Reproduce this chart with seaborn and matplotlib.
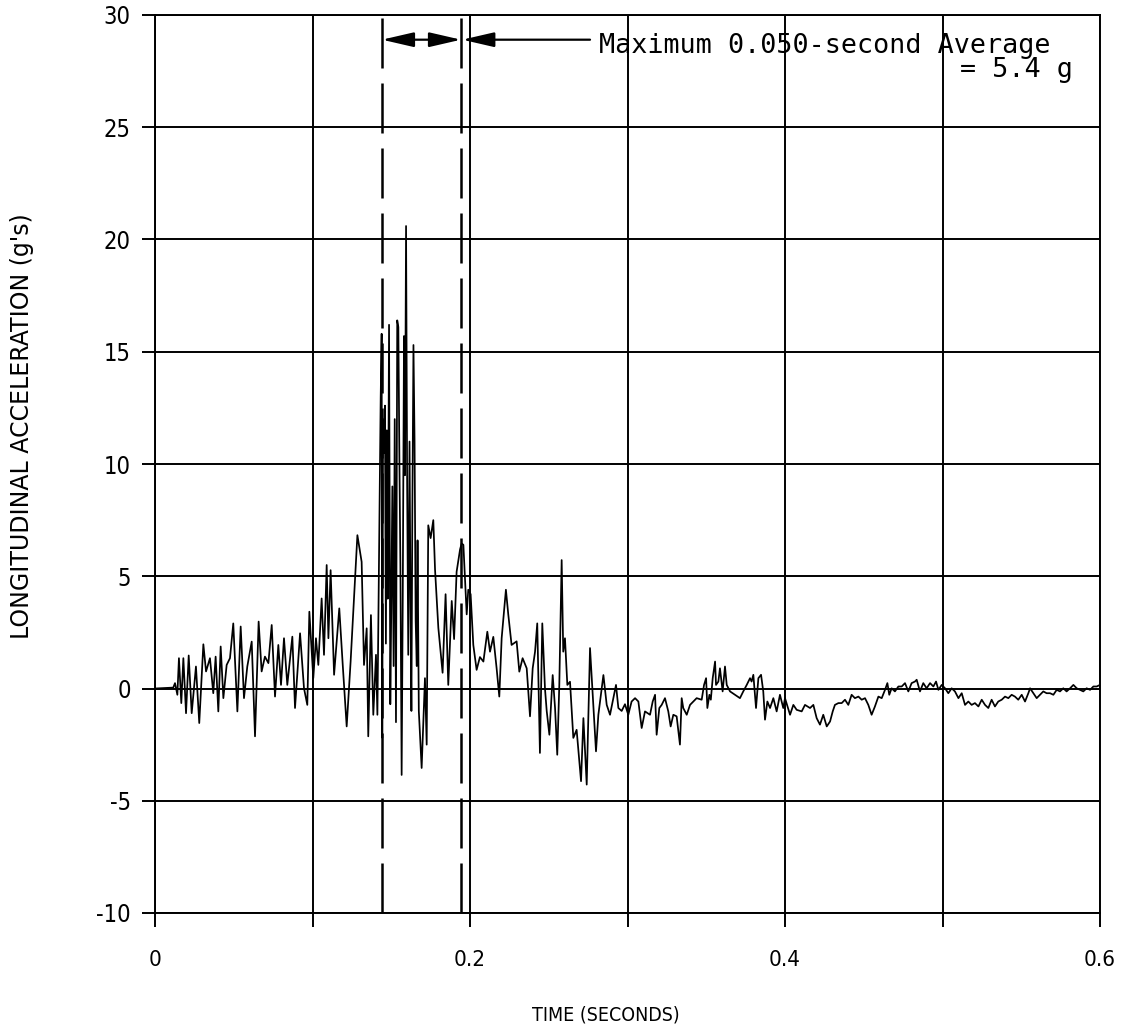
import numpy as np
import matplotlib
matplotlib.use("Agg")
import matplotlib.pyplot as plt
import seaborn as sns

# Digitised trace (time in s, longitudinal acceleration in g)
# pre-peak part
t_early = [0.0, 0.0116, 0.0127, 0.0142, 0.0152, 0.0167, 0.0180, 0.0197, 0.0214,
           0.0233, 0.0260, 0.0281, 0.0307, 0.0324, 0.0349, 0.0370, 0.0385,
           0.0402, 0.0417, 0.0434, 0.0455, 0.0476, 0.0497, 0.0523, 0.0544,
           0.0565, 0.0586, 0.0614, 0.0635, 0.0658, 0.0677, 0.0698, 0.0720,
           0.0741, 0.0762, 0.0783, 0.0800, 0.0819, 0.0840, 0.0872, 0.0889,
           0.0921, 0.0946, 0.0967, 0.0980, 0.1005, 0.1022, 0.1037, 0.1058,
           0.1073, 0.1090, 0.1101, 0.1115, 0.1137, 0.1170, 0.1192, 0.1217,
           0.1242, 0.1285, 0.1312, 0.1327, 0.1344, 0.1354, 0.1371, 0.1386,
           0.1403, 0.1412, 0.1424]
g_early = [0.0, 0.04, 0.24, -0.28, 1.35, -0.65, 1.35, -1.10, 1.47,
           -1.10, 0.98, -1.54, 1.97, 0.76, 1.35, -0.21, 1.42,
           -1.02, 1.87, -0.43, 1.05, 1.35, 2.90, -1.02, 2.76,
           -0.43, 0.98, 2.09, -2.13, 2.98, 0.76, 1.42, 1.13,
           2.83, -0.36, 1.94, 0.16, 2.24, 0.16, 2.31, -0.87,
           2.46, 0.01, -0.73, 3.42, 0.46, 2.24, 1.05, 4.01,
           1.50, 5.50, 2.24, 5.27, 0.61, 3.57, 1.05, -1.69,
           1.20, 6.83, 5.64, 1.05, 2.68, -2.13, 3.27, -1.17,
           1.50, -1.17, 6.83]

# peak part (inside and just after the 0.050 s window)
t_peak = [0.1433, 0.1439, 0.1443, 0.1448, 0.1454, 0.1460, 0.1466, 0.1472,
          0.1478, 0.1486, 0.1494, 0.1500, 0.1507, 0.1515, 0.1522, 0.1530,
          0.1538, 0.1545, 0.1552, 0.1558, 0.1566, 0.1573, 0.1581, 0.1587,
          0.1594, 0.1601, 0.1608, 0.1616, 0.1622, 0.1628, 0.1634, 0.1641,
          0.1648, 0.1655, 0.1662, 0.1667, 0.1675, 0.1693, 0.1714, 0.1725,
          0.1735, 0.1750, 0.1767, 0.1778, 0.1799, 0.1826, 0.1845, 0.1862,
          0.1884, 0.1899, 0.1915, 0.1937, 0.1947, 0.1958, 0.1979, 0.1989,
          0.2004, 0.2021, 0.2042, 0.2063, 0.2085, 0.2110, 0.2127, 0.2148,
          0.2169, 0.2186, 0.2201, 0.2228, 0.2243, 0.2264, 0.2296, 0.2313,
          0.2334, 0.2360, 0.2381, 0.2398, 0.2413, 0.2427, 0.2444, 0.2459,
          0.2476, 0.2487, 0.2504, 0.2525, 0.2540, 0.2554, 0.2567, 0.2582,
          0.2592, 0.2603, 0.2618, 0.2635, 0.2656, 0.2677, 0.2705, 0.2720,
          0.2741, 0.2762, 0.2783, 0.2800, 0.2815, 0.2847, 0.2868, 0.2889,
          0.2927, 0.2942, 0.2963, 0.2984, 0.3005, 0.3026, 0.3048, 0.3069,
          0.3090, 0.3111]
g_peak = [13.0, 15.8, -2.2, 12.0, 10.5, 12.6, 2.0, 11.5,
          4.0, 16.2, -0.7, 3.5, 9.0, 1.0, 12.0, -1.5,
          16.4, 16.1, 10.0, 5.5, -3.85, 4.0, 15.7, 9.5,
          20.6, 9.0, 1.5, 11.0, 4.0, -1.0, 8.0, 15.3,
          11.0, 3.0, 1.0, 6.6, -1.0, -3.54, 0.46, -2.5,
          7.27, 6.7, 7.5, 5.3, 2.7, 0.7, 4.2, 0.16,
          3.9, 2.2, 5.2, 6.2, 6.46, 6.4, 3.3, 4.4,
          4.2, 1.94, 0.83, 1.4, 1.2, 2.53, 1.64, 2.3,
          0.9, -0.36, 2.24, 4.4, 3.3, 1.94, 2.1, 0.75,
          1.35, 0.9, -1.24, 0.9, 1.64, 2.9, -2.87, 2.9,
          0.0, -1.0, -2.06, 0.6, -0.87, -2.95, 0.16, 5.72,
          1.64, 2.24, 0.16, 0.3, -2.2, -1.84, -4.13, -1.32,
          -4.28, 1.8, -0.73, -2.8, -1.17, 0.6, -0.73, -1.17,
          0.16, -0.87, -1.0, -0.7, -1.17, -0.58, -0.43, -0.58,
          -1.76, -1.02]

# late part
t_late = [0.3143, 0.3160, 0.3175, 0.3185, 0.3202, 0.3217, 0.3238, 0.3259,
          0.3274, 0.3291, 0.3312, 0.3333, 0.3344, 0.3354, 0.3376, 0.3397,
          0.3418, 0.3439, 0.3471, 0.3486, 0.3499, 0.3507, 0.3520, 0.3529,
          0.3541, 0.3556, 0.3562, 0.3577, 0.3587, 0.3604, 0.3619, 0.3630,
          0.3651, 0.3683, 0.3714, 0.3735, 0.3757, 0.3778, 0.3788, 0.3799,
          0.3816, 0.3831, 0.3848, 0.3862, 0.3873, 0.3888, 0.3905, 0.3926,
          0.3947, 0.3968, 0.3989, 0.4000, 0.4032, 0.4053, 0.4074, 0.4106,
          0.4127, 0.4159, 0.4180, 0.4201, 0.4222, 0.4243, 0.4265, 0.4286,
          0.4303, 0.4317, 0.4339, 0.4360, 0.4381, 0.4402, 0.4423, 0.4444,
          0.4466, 0.4487, 0.4508, 0.4529, 0.4550, 0.4571, 0.4593, 0.4614,
          0.4635, 0.4650, 0.4662, 0.4677, 0.4698, 0.4720, 0.4741, 0.4762,
          0.4783, 0.4804, 0.4825, 0.4836, 0.4857, 0.4878, 0.4899, 0.4921,
          0.4942, 0.4959, 0.4974, 0.4995, 0.5016, 0.5037, 0.5058, 0.5079,
          0.5101, 0.5122, 0.5143, 0.5164, 0.5185, 0.5206, 0.5228, 0.5249,
          0.5270, 0.5291, 0.5312, 0.5333, 0.5354, 0.5376, 0.5397, 0.5418,
          0.5439, 0.5460, 0.5481, 0.5503, 0.5524, 0.5545, 0.5556, 0.5577,
          0.5598, 0.5619, 0.5640, 0.5661, 0.5683, 0.5704, 0.5725, 0.5746,
          0.5767, 0.5788, 0.5810, 0.5831, 0.5852, 0.5873, 0.5894, 0.5915,
          0.5937, 0.5958, 0.5979, 0.6000]
g_late = [-1.17, -0.58, -0.28, -2.06, -0.87, -0.73, -0.43, -1.02,
          -1.69, -1.17, -1.24, -2.50, -0.43, -0.87, -1.17, -0.73,
          -0.58, -0.43, -0.50, 0.16, 0.46, -0.87, -0.28, -0.50,
          0.46, 1.20, 0.16, 0.31, 0.90, -0.13, 0.98, 0.16,
          -0.13, -0.28, -0.43, -0.13, 0.16, 0.46, 0.31, 0.61,
          -0.87, 0.46, 0.61, -0.13, -1.39, -0.58, -0.87, -0.43,
          -1.02, -0.28, -0.87, -0.43, -1.17, -0.73, -0.95, -1.02,
          -0.73, -0.87, -0.73, -1.32, -1.61, -1.17, -1.69, -1.47,
          -1.02, -0.73, -0.65, -0.65, -0.50, -0.73, -0.28, -0.43,
          -0.36, -0.50, -0.43, -0.73, -1.17, -0.80, -0.36, -0.43,
          -0.06, 0.24, -0.28, 0.01, -0.13, 0.09, 0.09, 0.24,
          -0.13, 0.24, 0.31, 0.39, -0.13, 0.24, 0.01, 0.24,
          0.09, 0.31, -0.06, 0.16, 0.01, -0.21, 0.01, -0.13,
          -0.43, -0.21, -0.73, -0.58, -0.73, -0.65, -0.80, -0.50,
          -0.73, -0.87, -0.50, -0.80, -0.58, -0.50, -0.36, -0.43,
          -0.28, -0.36, -0.50, -0.28, -0.58, -0.21, 0.01, -0.21,
          -0.43, -0.28, -0.13, -0.21, -0.21, -0.28, -0.06, -0.13,
          0.01, -0.13, 0.01, 0.16, 0.01, -0.06, -0.13, 0.01,
          -0.06, 0.09, 0.09, 0.16]

# 0.050 s window of maximum average
window_start = 0.1441
window_end = 0.1943
max_avg_g = 5.4

x_ticks = [0.0, 0.1, 0.2, 0.3, 0.4, 0.5, 0.6]
x_tick_labels = ["0", "", "0.2", "", "0.4", "", "0.6"]
y_ticks = [-10, -5, 0, 5, 10, 15, 20, 25, 30]

time_s = np.array(t_early + t_peak + t_late)
accel_g = np.array(g_early + g_peak + g_late)

sns.set_style("white")
plt.rcParams["axes.unicode_minus"] = False
plt.rcParams["text.color"] = "black"
narrow = ["Liberation Sans Narrow", "DejaVu Sans"]

fig = plt.figure(figsize=(11.3, 10.36), dpi=100)
ax = fig.add_axes([155 / 1130, 123 / 1036, 945 / 1130, 898 / 1036])

sns.lineplot(x=time_s, y=accel_g, ax=ax, color="black", lw=1.25,
             estimator=None, sort=False)

ax.set_xlim(0, 0.6)
ax.set_ylim(-10, 30)
ax.set_xticks(x_ticks)
ax.set_xticklabels(x_tick_labels, family=narrow, fontsize=16,
                   fontstretch="condensed")
ax.set_yticks(y_ticks)
ax.set_yticklabels([str(v) for v in y_ticks], family=narrow, fontsize=17,
                   fontstretch="condensed")
ax.tick_params(axis="x", direction="out", length=10, width=1.4, pad=17,
               bottom=True, colors="black")
ax.tick_params(axis="y", direction="out", length=9.5, width=1.4, pad=8,
               left=True, colors="black")
ax.grid(True, color="black", lw=1.4)
for s in ax.spines.values():
    s.set_color("black")
    s.set_linewidth(1.4)

# dashed window boundaries
for xv in (window_start, window_end):
    ax.axvline(xv, color="black", lw=1.8, dashes=(20, 6))

# arrows and annotation
arrow_y = 28.9
head = "head_length=1.3,head_width=0.3"
ax.annotate("", xy=(window_start, arrow_y), xytext=(window_end, arrow_y),
            arrowprops=dict(arrowstyle="<|-|>," + head, color="black", lw=1.6,
                            mutation_scale=15, shrinkA=0, shrinkB=0))
ax.annotate("", xy=(window_end + 0.0008, arrow_y), xytext=(0.2762, arrow_y),
            arrowprops=dict(arrowstyle="-|>," + head, color="black", lw=1.6,
                            mutation_scale=15, shrinkA=0, shrinkB=0))
ax.text(0.2819, 28.6, "Maximum 0.050-second Average", family="DejaVu Sans Mono",
        fontsize=19.3, va="center", ha="left", color="black")
ax.text(0.5111, 27.55, f"= {max_avg_g} g", family="DejaVu Sans Mono",
        fontsize=19.3, va="center", ha="left", color="black")

fig.text(606 / 1130, 1 - 1015 / 1036, "TIME (SECONDS)", family=narrow,
         fontsize=14, fontstretch="condensed", ha="center", va="center",
         color="black")
fig.text(22 / 1130, 1 - 426 / 1036, "LONGITUDINAL ACCELERATION (g's)",
         family="DejaVu Sans", fontsize=17, rotation=90,
         ha="center", va="center", color="black")

fig.savefig("out.png", dpi=100)
